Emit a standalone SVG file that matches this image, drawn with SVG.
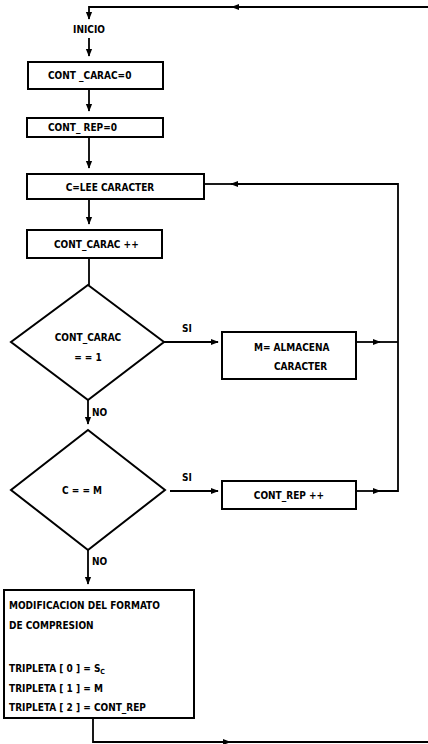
<svg xmlns="http://www.w3.org/2000/svg" width="428" height="744" viewBox="0 0 428 744">
<defs>
<marker id="ah" viewBox="0 0 10 10" refX="9" refY="5" markerWidth="8" markerHeight="8" markerUnits="userSpaceOnUse" orient="auto">
<path d="M0,1 L10,5 L0,9 Z" fill="#000"/>
</marker>
</defs>
<style>
.b{fill:#fff;stroke:#000;stroke-width:2}
.l{fill:none;stroke:#000;stroke-width:1.8}
.t{font-family:"DejaVu Sans Condensed","Liberation Sans Narrow","Liberation Sans",sans-serif;font-stretch:condensed;font-weight:bold;font-size:10px;fill:#000}
.c{text-anchor:middle}
</style>
<rect width="428" height="744" fill="#fff"/>
<g id="connectors">
<path class="l" d="M428,7 H240"/>
<path class="l" d="M242,7 H89 V19" marker-end="url(#ah)"/>
<path class="l" d="M240,7 H232" marker-end="url(#ah)"/>
<path class="l" d="M89,38 V56" marker-end="url(#ah)"/>
<path class="l" d="M89,89 V111" marker-end="url(#ah)"/>
<path class="l" d="M89,137 V168" marker-end="url(#ah)"/>
<path class="l" d="M89,199 V224" marker-end="url(#ah)"/>
<path class="l" d="M89,258 V285"/>
<path class="l" d="M164,342 H218" marker-end="url(#ah)"/>
<path class="l" d="M356,342 H380" marker-end="url(#ah)"/>
<path class="l" d="M378,342 H398"/>
<path class="l" d="M88,400 V424" marker-end="url(#ah)"/>
<path class="l" d="M170,491 H218" marker-end="url(#ah)"/>
<path class="l" d="M356,491 H380" marker-end="url(#ah)"/>
<path class="l" d="M378,491 H398 V184 H231" marker-end="url(#ah)"/>
<path class="l" d="M232,184 H205"/>
<path class="l" d="M88,550 V584" marker-end="url(#ah)"/>
<path class="l" d="M93,718 V742 H230" marker-end="url(#ah)"/>
<path class="l" d="M228,742 H428"/>
<text class="t" x="182" y="332">SI</text>
<text class="t" x="182" y="481">SI</text>
<text class="t" x="92" y="416">NO</text>
<text class="t" x="92" y="565">NO</text>
</g>
<g id="inicio"><text class="t c" x="89" y="33">INICIO</text></g>
<g id="n1"><rect class="b" x="28" y="62" width="135" height="27"/><text class="t" x="48" y="79">CONT _CARAC=0</text></g>
<g id="n2"><rect class="b" x="27" y="118" width="136" height="19"/><text class="t" x="48" y="131">CONT_ REP=0</text></g>
<g id="n3"><rect class="b" x="27" y="174" width="177" height="25"/><text class="t c" x="110" y="191">C=LEE CARACTER</text></g>
<g id="n4"><rect class="b" x="27" y="230" width="135" height="28"/><text class="t" x="54" y="248">CONT_CARAC ++</text></g>
<g id="d1"><path class="b" d="M88,285 L164,342 L88,400 L11,342 Z"/><text class="t c" x="88" y="341">CONT_CARAC</text><text class="t c" x="88" y="361">= = 1</text></g>
<g id="n5"><rect class="b" x="222" y="332" width="134" height="47"/><text class="t" x="254" y="351">M= ALMACENA</text><text class="t" x="274" y="370">CARACTER</text></g>
<g id="d2"><path class="b" d="M88,430 L165,490 L88,550 L11,490 Z"/><text class="t c" x="82" y="494">C = = M</text></g>
<g id="n6"><rect class="b" x="222" y="481" width="134" height="28"/><text class="t c" x="289" y="499">CONT_REP ++</text></g>
<g id="n7"><rect class="b" x="4" y="590" width="190" height="128"/>
<text class="t" x="9" y="609">MODIFICACION DEL FORMATO</text>
<text class="t" x="9" y="629">DE COMPRESION</text>
<text class="t" x="9" y="672">TRIPLETA [ 0 ] = S<tspan font-size="7" dy="2">C</tspan></text>
<text class="t" x="9" y="692">TRIPLETA [ 1 ] = M</text>
<text class="t" x="9" y="711">TRIPLETA [ 2 ] = CONT_REP</text>
</g>
</svg>
